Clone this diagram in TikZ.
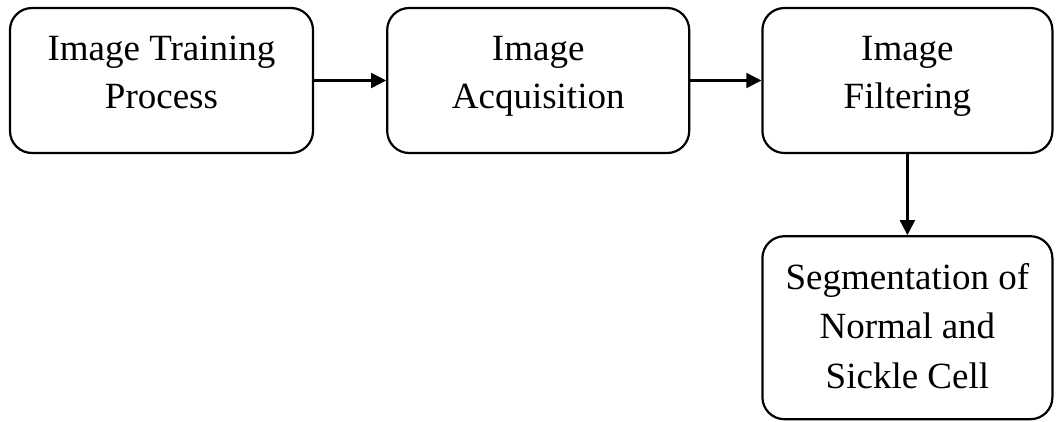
\documentclass[tikz,border=0pt]{standalone}
\usepackage{fontspec}
\setmainfont{Liberation Serif}
\usetikzlibrary{positioning, arrows.meta}

\begin{document}
\begin{tikzpicture}[every node/.style={draw, rounded corners=22pt, line width=2.2pt, inner sep=0pt, font=\fontsize{37}{48}\selectfont, text height=70pt, text depth=15pt, minimum height=145pt}, align=center, >={Triangle[length=15pt, width=15pt]}, line width=2.2pt]
    \useasboundingbox (0,0) rectangle (1057pt,-421pt);

    \node (training)     [minimum width=303pt] at (161.5pt,-80.5pt) {Image Training\\Process};
    \node (acquisition)  [minimum width=302pt, right=72pt of training]    {Image\\Acquisition};
    \node (filtering)    [minimum width=290pt, right=71pt of acquisition] {Image\\Filtering};
    \node (segmentation) [
        minimum width=290pt, minimum height=183pt, text height=126pt, text depth=5pt,
        font=\fontsize{37}{49.5}\selectfont, below=81pt of filtering
    ] {Segmentation of\\Normal and\\Sickle Cell};

    \draw[->] (training)    -- (acquisition);
    \draw[->] (acquisition) -- (filtering);
    \draw[->] (filtering)   -- (segmentation);
\end{tikzpicture}
\end{document}
